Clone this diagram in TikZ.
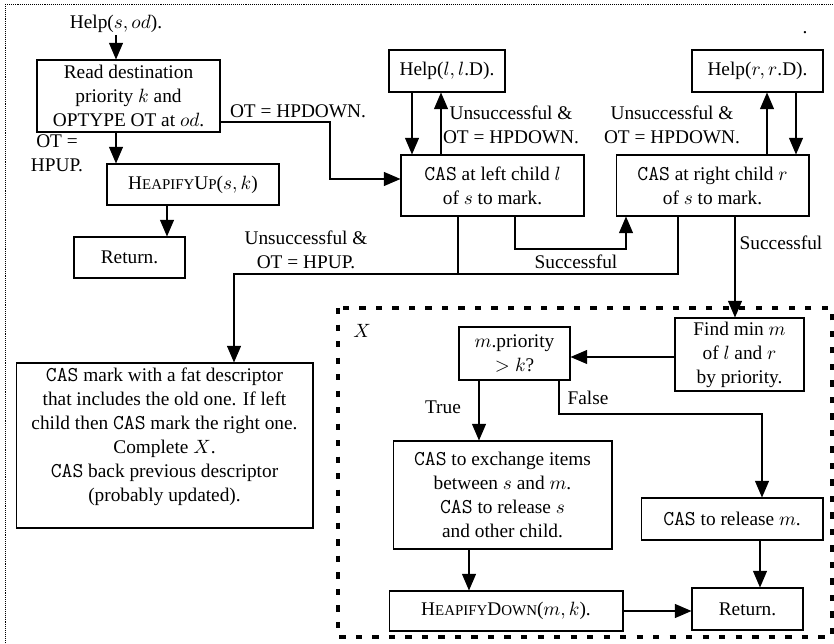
\documentclass[tikz,border=0pt]{standalone}
\usepackage{fontspec}
\setmainfont{Liberation Serif}
\usetikzlibrary{arrows.meta}

\newcommand{\smcap}[1]{{\fontsize{8.5}{10}\selectfont #1}}
\newcommand{\cas}{{\ttfamily\fontsize{12}{13.6}\selectfont CAS}}

\begin{document}
\begin{tikzpicture}[x=0.02cm,y=-0.02cm,
  font=\fontsize{11}{13.6}\selectfont,
  box/.style={draw,line width=0.6pt,align=center,inner sep=1pt},
  lbl/.style={align=center,inner sep=1pt},
  arr/.style={line width=0.6pt,-{Triangle[length=9.5pt,width=8pt]}},
  link/.style={line width=0.6pt},
  outerframe/.style={line width=0.5pt,dash pattern=on 0.5pt off 0.6pt},
  xframe/.style={line width=2pt,dash pattern=on 3.6pt off 5.8pt}]

\useasboundingbox (0,0) rectangle (834,644);
\draw[outerframe] (5,4) rectangle (880,690);
\draw[xframe] (338,308) rectangle (832,637);

\node[lbl] (helpsod) at (116,24) {Help($s, od$).};
\node[box,minimum width=3.66cm,minimum height=1.44cm] (read) at (128.5,96) {Read destination\\priority $k$ and\\OPTYPE OT at $od$.};
\node[box,minimum width=3.44cm,minimum height=0.82cm] (hup) at (193,184.5) {H\smcap{EAPIFY}U\smcap{P}($s, k$)};
\node[box,minimum width=2.22cm,minimum height=0.82cm] (ret1) at (129.5,257.5) {Return.};

\node[box,minimum width=2.32cm,minimum height=0.84cm] (helpl) at (447,71) {Help($l, l$.D).};
\node[box,minimum width=3.66cm,minimum height=1.22cm] (casl) at (492.5,185.5) {\cas{} at left child $l$\\of $s$ to mark.};
\node[box,minimum width=2.62cm,minimum height=0.84cm] (helpr) at (757.5,71) {Help($r, r$.D).};
\node[box,minimum width=3.86cm,minimum height=1.22cm] (casr) at (712.5,185.5) {\cas{} at right child $r$\\of $s$ to mark.};

\node[box,minimum width=5.94cm,minimum height=3.3cm] (casmark) at (164.5,445.5) {};
\node[lbl,anchor=north] (casmarktext) at (164.5,366) {\cas{} mark with a fat descriptor\\that includes the old one. If left\\child then \cas{} mark the right one.\\Complete $X$.\\\cas{} back previous descriptor\\(probably updated).};

\node[box,minimum width=2.58cm,minimum height=1.46cm] (findmin) at (739.5,354.5) {Find min $m$\\of $l$ and $r$\\by priority.};
\node[box,minimum width=2.22cm,minimum height=1.06cm] (prio) at (514.5,353.5) {$m$.priority\\$>k$?};
\node[box,minimum width=4.38cm,minimum height=2.16cm] (exch) at (502.5,495) {\cas{} to exchange items\\between $s$ and $m$.\\\cas{} to release $s$\\and other child.};
\node[box,minimum width=3.64cm,minimum height=0.84cm] (release) at (732,519) {\cas{} to release $m$.};
\node[box,minimum width=4.68cm,minimum height=0.8cm] (hdown) at (506,611) {H\smcap{EAPIFY}D\smcap{OWN}($m, k$).};
\node[box,minimum width=2.22cm,minimum height=0.84cm] (ret2) at (747.5,609) {Return.};

\node[lbl] (otdown) at (298,111) {OT = HPDOWN.};
\node[lbl] (otup) at (57,153) {OT =\\HPUP.};
\node[lbl] (unsl) at (511,125) {Unsuccessful \&\\OT = HPDOWN.};
\node[lbl] (unsr) at (672,125) {Unsuccessful \&\\OT = HPDOWN.};
\node[lbl] (succl) at (576,262) {Successful};
\node[lbl] (succr) at (781,243) {Successful};
\node[lbl] (unsup) at (306,250) {Unsuccessful \&\\OT = HPUP.};
\node[lbl] (truelbl) at (443,407) {True};
\node[lbl] (falselbl) at (588,398) {False};
\node[lbl] (xlbl) at (362,331) {$X$};
\node[lbl] (dot) at (805,33) {.};

\coordinate (hpdownbend) at (330,179);
\coordinate (succbend) at (626,249);
\coordinate (hpupbend) at (234,274);
\coordinate (hpupjoin) at (458,274);
\coordinate (falsebend) at (762,414);

\foreach \from/\to/\col in {helpsod/read/116, read/hup/116, hup/ret1/167, helpl/casl/412, helpr/casr/796, casr/findmin/735, prio/exch/479, exch/hdown/469, release/ret2/760}
	\draw[arr] (\from.south -| \col,0) -- (\to.north -| \col,0);

\foreach \from/\to/\col in {casl/helpl/441, casr/helpr/767}
	\draw[arr] (\from.north -| \col,0) -- (\to.south -| \col,0);

\draw[arr] (read.east |- 0,122) -| (hpdownbend) -- (casl.west |- hpdownbend);
\draw[arr] (casl.south -| 515,0) |- (succbend) -- (casr.south -| succbend);
\draw[link] (casl.south -| hpupjoin) -- (hpupjoin);
\draw[arr] (casr.south -| 678,0) |- (hpupbend) -- (casmark.north -| hpupbend);
\draw[arr] (findmin.west |- 0,357) -- (prio.east |- 0,357);
\draw[arr] (prio.south -| 559,0) |- (falsebend) -- (release.north -| falsebend);
\draw[arr] (hdown.east |- 0,611) -- (ret2.west |- 0,611);

\end{tikzpicture}
\end{document}
